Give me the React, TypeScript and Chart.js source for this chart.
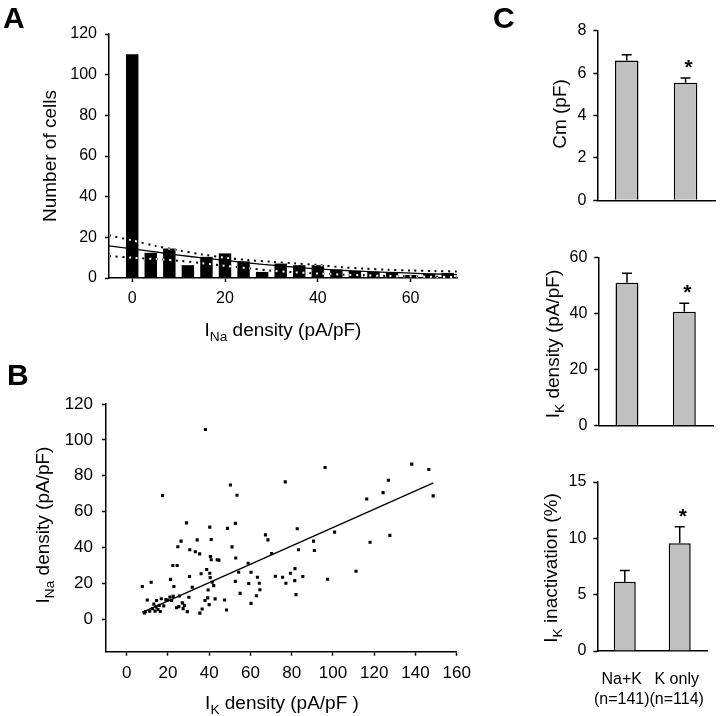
import React, { useEffect, useRef } from 'react';
import { Chart, registerables } from 'chart.js';

Chart.register(...registerables);

const FONT = 'Arial, "Liberation Sans", Helvetica, sans-serif';
Chart.defaults.font.family = FONT;
Chart.defaults.color = '#000';
const W = 720;
const H = 716;

// ---------- Panel A : histogram of I_Na density ----------
const histBins = [0, 4, 8, 12, 16, 20, 24, 28, 32, 36, 40, 44, 48, 52, 56, 60, 64, 68];
const histCounts = [110, 12.4, 14.5, 6.3, 10.4, 12.1, 8.2, 3, 7.1, 6.3, 6.3, 4.1, 3.5, 3, 2.5, 1.5, 2, 2.5];
const fitX = [-5, 0, 5, 10, 15, 20, 25, 30, 35, 40, 45, 50, 55, 60, 65, 70];
const fitMid = [15.8, 14.3, 12.8, 11.3, 9.9, 8.7, 7.4, 6.3, 5.3, 4.5, 3.8, 3.3, 2.8, 2.4, 2.0, 1.7];
const fitUpper = [21, 18.5, 15.8, 13.6, 11.6, 10, 8.8, 8, 7.2, 6.4, 5.3, 4.6, 4.1, 3.7, 3.4, 3.2];
const fitLower = [10.8, 10, 9.3, 8.5, 7.3, 6, 4.8, 3.6, 2.8, 2.2, 1.7, 1.3, 1.0, 0.8, 0.6, 0.5];
const aXTicks = [0, 20, 40, 60];
const aYTicks = [0, 20, 40, 60, 80, 100, 120];

// ---------- Panel B : scatter I_K vs I_Na ----------
const ikDensity = [
  7.6, 8.6, 9.2, 10.0, 11.9, 11.2, 12.5, 13.2, 13.8, 14.3, 14.5, 15.2, 15.8, 16.3, 16.8, 17.4, 18.0, 19.0, 20.0, 21.0,
  21.3, 21.8, 22.4, 22.6, 22.9, 24.5, 24.2, 24.8, 25.3, 25.6, 26.4, 27.0, 27.4, 28.0, 29.0, 29.4, 30.2, 30.5, 30.6, 31.8,
  33.3, 34.2, 35.4, 35.5, 36.1, 36.6, 38.0, 38.2, 38.8, 39.3, 39.5, 40.0, 40.3, 40.3, 40.5, 40.6, 41.0, 41.0, 41.5, 42.2,
  42.9, 43.9, 44.7, 47.5, 48.4, 48.9, 50.3, 51.1, 52.7, 52.9, 52.7, 53.5, 54.3, 55.0, 58.9, 59.2, 60.3, 60.3, 62.9, 63.4,
  64.3, 64.6, 67.3, 68.5, 70.3, 72.1, 75.6, 76.9, 77.2, 79.4, 81.6, 81.5, 82.1, 82.7, 83.3, 85.4, 90.6, 91.0, 96.2, 97.4,
  100.8, 111.2, 116.4, 118.0, 124.3, 126.9, 127.6, 138.2, 146.5, 148.6,
];
const inaDensity = [
  18.3, 3.6, 4.3, 10.8, 20.7, 4.5, 6.0, 8.5, 4.6, 7.0, 10.5, 5.5, 7.8, 4.4, 11.5, 69.0, 7.5, 11.0, 10.8, 12.5,
  22.3, 10.5, 30.0, 12.8, 18.3, 30.0, 6.5, 40.5, 7.1, 13.0, 43.6, 9.2, 6.0, 7.8, 53.8, 4.3, 12.3, 23.9, 38.8, 17.9,
  37.7, 44.3, 36.5, 3.5, 25.4, 5.8, 10.5, 105.8, 27.8, 12.0, 16.4, 8.2, 51.4, 25.7, 23.3, 35.0, 33.2, 44.5, 20.7, 18.8,
  11.4, 33.2, 33.0, 10.8, 5.2, 50.7, 74.9, 40.4, 53.5, 34.2, 21.2, 69.2, 26.3, 14.5, 31.3, 20.0, 26.3, 8.9, 13.2, 23.5,
  20.1, 16.5, 47.1, 44.3, 36.7, 24.0, 23.5, 76.6, 20.1, 25.7, 28.3, 21.6, 13.8, 50.5, 38.8, 23.9, 43.6, 38.4, 84.6, 22.4,
  48.6, 26.8, 67.1, 43.0, 70.6, 77.5, 46.8, 86.5, 83.5, 68.8,
];
const regX = [7.6, 148.7];
const regY = [3.9, 76.0];
const bXTicks = [0, 20, 40, 60, 80, 100, 120, 140, 160];
const bYTicks = [0, 20, 40, 60, 80, 100, 120];

// ---------- Panel C : group means ----------
const cGroups = [['Na+K', '(n=141)'], ['K only', '(n=114)']];
const cmMean = [6.6, 5.55];
const cmSem = [0.27, 0.22];
const ikMean = [50.9, 40.6];
const ikSem = [3.4, 3.0];
const inactMean = [6.15, 9.56];
const inactSem = [1.0, 1.47];
const significant = [false, true];
const cmTicks = [0, 2, 4, 6, 8];
const ikTicks = [0, 20, 40, 60];
const inactTicks = [0, 5, 10, 15];

// ---------- helpers ----------
type Part = { t: string; sub?: boolean };
type Label = { parts: Part[]; x: number; y: number; size: number; rot?: number; bold?: boolean; left?: boolean };

function drawRich(ctx: CanvasRenderingContext2D, lab: Label) {
  const size = lab.size;
  const subSize = size * 0.72;
  const weight = lab.bold ? 'bold ' : '';
  let total = 0;
  const widths = lab.parts.map((p) => {
    ctx.font = `${weight}${p.sub ? subSize : size}px ${FONT}`;
    const w = ctx.measureText(p.t).width;
    total += w;
    return w;
  });
  ctx.save();
  ctx.translate(lab.x, lab.y);
  if (lab.rot) ctx.rotate(lab.rot);
  ctx.fillStyle = '#000';
  ctx.textBaseline = 'alphabetic';
  ctx.textAlign = 'left';
  let cx = lab.left ? 0 : -total / 2;
  lab.parts.forEach((p, i) => {
    ctx.font = `${weight}${p.sub ? subSize : size}px ${FONT}`;
    ctx.fillText(p.t, cx, p.sub ? size * 0.24 : 0);
    cx += widths[i];
  });
  ctx.restore();
}

function decor(labels: Label[], opaque = false) {
  return {
    id: 'decor',
    beforeDraw(chart: any) {
      if (!opaque) return;
      const ctx = chart.ctx;
      ctx.save();
      ctx.fillStyle = '#fff';
      ctx.fillRect(0, 0, chart.width, chart.height);
      ctx.restore();
    },
    beforeDatasetDraw(chart: any, args: any) {
      const ds = chart.data.datasets[args.index];
      if (opaque && ds && ds.invert) {
        chart.ctx.save();
        chart.ctx.globalCompositeOperation = 'difference';
      }
    },
    afterDatasetDraw(chart: any, args: any) {
      const ds = chart.data.datasets[args.index];
      if (opaque && ds && ds.invert) chart.ctx.restore();
    },
    afterDraw(chart: any) {
      labels.forEach((l) => drawRich(chart.ctx, l));
    },
  };
}

function errPlugin(sem: number[], sig: boolean[]) {
  return {
    id: 'errbars',
    afterDatasetsDraw(chart: any) {
      const meta = chart.getDatasetMeta(0);
      const ys = chart.scales.y;
      const ctx = chart.ctx as CanvasRenderingContext2D;
      const vals = chart.data.datasets[0].data as number[];
      ctx.save();
      ctx.strokeStyle = '#000';
      ctx.lineWidth = 1.5;
      meta.data.forEach((bar: any, i: number) => {
        const base = ys.getPixelForValue(vals[i]);
        const top = ys.getPixelForValue(vals[i] + sem[i]);
        ctx.beginPath();
        ctx.moveTo(bar.x, base);
        ctx.lineTo(bar.x, top);
        ctx.moveTo(bar.x - 5, top);
        ctx.lineTo(bar.x + 5, top);
        ctx.stroke();
        if (sig[i]) {
          ctx.font = `bold 21px ${FONT}`;
          ctx.textAlign = 'center';
          ctx.textBaseline = 'alphabetic';
          ctx.fillStyle = '#000';
          ctx.fillText('*', bar.x + 3, top - 4);
        }
      });
      ctx.restore();
    },
  };
}

const tickGrid = { display: true, drawOnChartArea: false, drawTicks: true, tickLength: 4, tickWidth: 1.5, color: '#000', offset: false };
const axisBorder = { display: true, color: '#000', width: 1.5 };
const setTicks = (arr: number[]) => (s: any) => {
  s.ticks = arr.map((v) => ({ value: v }));
};

type Box = { L: number; T: number; R: number; B: number };
const boxA: Box = { L: 109, T: 34, R: 457, B: 278 };
const boxB: Box = { L: 106, T: 404, R: 456.7, B: 651.7 };
const boxC1: Box = { L: 597.3, T: 30.7, R: 715, B: 200.3 };
const boxC2: Box = { L: 598.3, T: 257.3, R: 713, B: 425.7 };
const boxC3: Box = { L: 597.3, T: 482, R: 711.7, B: 651 };

function baseOptions(box: Box, xH: number) {
  return {
    responsive: false,
    animation: false,
    devicePixelRatio: 1,
    events: [],
    layout: { padding: { left: 0, top: box.T, right: W - box.R, bottom: H - box.B - xH } },
    plugins: { legend: { display: false }, tooltip: { enabled: false }, title: { display: false } },
  };
}

function makeA() {
  const pts = (ys: number[]) => fitX.map((x, i) => ({ x, y: ys[i] }));
  const lineDs = (ys: number[], dash: number[], w: number, invert: boolean) => ({
    type: 'line',
    data: pts(ys),
    borderColor: invert ? '#fff' : '#000',
    borderWidth: w,
    borderDash: dash,
    pointRadius: 0,
    tension: 0.3,
    order: 0,
    invert,
  });
  return {
    type: 'bar',
    data: {
      datasets: [
        {
          type: 'bar',
          data: histBins.map((x, i) => ({ x, y: histCounts[i] })),
          backgroundColor: '#000',
          borderWidth: 0,
          barPercentage: 0.67,
          categoryPercentage: 1,
          order: 1,
        },
        lineDs(fitMid, [], 1.3, false),
        lineDs(fitUpper, [2, 4.7], 2, true),
        lineDs(fitLower, [2, 4.7], 2, true),
      ],
    },
    options: {
      ...baseOptions(boxA, 40),
      scales: {
        x: {
          type: 'linear',
          min: -5,
          max: 70,
          offset: false,
          afterBuildTicks: setTicks(aXTicks),
          afterFit: (s: any) => { s.height = 40; },
          grid: tickGrid,
          border: axisBorder,
          ticks: { font: { size: 16 }, color: '#000', padding: 7, maxRotation: 0, autoSkip: false },
        },
        y: {
          type: 'linear',
          min: 0,
          max: 120,
          afterBuildTicks: setTicks(aYTicks),
          afterFit: (s: any) => { s.width = boxA.L; },
          grid: tickGrid,
          border: axisBorder,
          ticks: { font: { size: 16 }, color: '#000', padding: 8 },
        },
      },
    },
    plugins: [
      decor(
        [
          { parts: [{ t: 'A' }], x: 3, y: 28, size: 30, bold: true, left: true },
          { parts: [{ t: 'Number of cells' }], x: 56, y: 156, size: 19, rot: -Math.PI / 2 },
          { parts: [{ t: 'I' }, { t: 'Na', sub: true }, { t: ' density (pA/pF)' }], x: 283, y: 336, size: 19 },
        ],
        true
      ),
    ],
  };
}

function makeB() {
  return {
    type: 'scatter',
    data: {
      datasets: [
        {
          type: 'scatter',
          data: ikDensity.map((x, i) => ({ x, y: inaDensity[i] })),
          pointStyle: 'rect',
          pointRadius: 2.2,
          backgroundColor: '#000',
          borderWidth: 0,
        },
        {
          type: 'line',
          data: regX.map((x, i) => ({ x, y: regY[i] })),
          borderColor: '#000',
          borderWidth: 1.4,
          pointRadius: 0,
          showLine: true,
        },
      ],
    },
    options: {
      ...baseOptions(boxB, 40),
      scales: {
        x: {
          type: 'linear',
          min: -10,
          max: 160,
          afterBuildTicks: setTicks(bXTicks),
          afterFit: (s: any) => { s.height = 40; },
          grid: tickGrid,
          border: axisBorder,
          ticks: { font: { size: 17 }, color: '#000', padding: 7, maxRotation: 0, autoSkip: false },
        },
        y: {
          type: 'linear',
          min: -18,
          max: 120,
          afterBuildTicks: setTicks(bYTicks),
          afterFit: (s: any) => { s.width = boxB.L; },
          grid: tickGrid,
          border: axisBorder,
          ticks: { font: { size: 17 }, color: '#000', padding: 9 },
        },
      },
    },
    plugins: [
      decor([
        { parts: [{ t: 'B' }], x: 7, y: 385, size: 30, bold: true, left: true },
        { parts: [{ t: 'I' }, { t: 'Na', sub: true }, { t: ' density (pA/pF)' }], x: 49, y: 525, size: 19, rot: -Math.PI / 2 },
        { parts: [{ t: 'I' }, { t: 'K', sub: true }, { t: ' density (pA/pF )' }], x: 282, y: 709, size: 19 },
      ]),
    ],
  };
}

function makeC(box: Box, means: number[], sems: number[], yTicks: number[], showX: boolean, labels: Label[]) {
  const xH = showX ? 60 : 10;
  return {
    type: 'bar',
    data: {
      labels: cGroups,
      datasets: [
        {
          data: means,
          backgroundColor: '#c0c0c0',
          borderColor: '#000',
          borderWidth: 1.5,
          barPercentage: 0.4,
          categoryPercentage: 1,
        },
      ],
    },
    options: {
      ...baseOptions(box, xH),
      scales: {
        x: {
          type: 'category',
          offset: true,
          afterFit: (s: any) => { s.height = xH; },
          grid: { display: false },
          border: axisBorder,
          ticks: {
            display: showX,
            font: { size: 16, lineHeight: 1.25 },
            color: '#000',
            padding: 11,
            labelOffset: -3,
            maxRotation: 0,
            autoSkip: false,
          },
        },
        y: {
          type: 'linear',
          min: yTicks[0],
          max: yTicks[yTicks.length - 1],
          afterBuildTicks: setTicks(yTicks),
          afterFit: (s: any) => { s.width = box.L; },
          grid: tickGrid,
          border: axisBorder,
          ticks: { font: { size: 16 }, color: '#000', padding: 7 },
        },
      },
    },
    plugins: [errPlugin(sems, significant), decor(labels)],
  };
}

function ChartCanvas({ make, z }: { make: () => any; z: number }) {
  const ref = useRef<HTMLCanvasElement>(null);
  useEffect(() => {
    const chart = new Chart(ref.current as HTMLCanvasElement, make());
    return () => chart.destroy();
  }, []);
  return (
    <canvas
      ref={ref}
      width={W}
      height={H}
      style={{ position: 'absolute', left: 0, top: 0, width: W, height: H, zIndex: z }}
    />
  );
}

export default function App() {
  return (
    <div style={{ position: 'absolute', left: 0, top: 0, width: W, height: H, background: '#fff', overflow: 'hidden' }}>
      <ChartCanvas z={1} make={makeA} />
      <ChartCanvas z={2} make={makeB} />
      <ChartCanvas
        z={3}
        make={() =>
          makeC(boxC1, cmMean, cmSem, cmTicks, false, [
            { parts: [{ t: 'C' }], x: 493, y: 28, size: 30, bold: true, left: true },
            { parts: [{ t: 'Cm (pF)' }], x: 566, y: 114, size: 19, rot: -Math.PI / 2 },
          ])
        }
      />
      <ChartCanvas
        z={4}
        make={() =>
          makeC(boxC2, ikMean, ikSem, ikTicks, false, [
            { parts: [{ t: 'I' }, { t: 'K', sub: true }, { t: ' density (pA/pF)' }], x: 559, y: 344, size: 19, rot: -Math.PI / 2 },
          ])
        }
      />
      <ChartCanvas
        z={5}
        make={() =>
          makeC(boxC3, inactMean, inactSem, inactTicks, true, [
            { parts: [{ t: 'I' }, { t: 'K', sub: true }, { t: ' inactivation (%)' }], x: 557, y: 568, size: 19, rot: -Math.PI / 2 },
          ])
        }
      />
    </div>
  );
}
